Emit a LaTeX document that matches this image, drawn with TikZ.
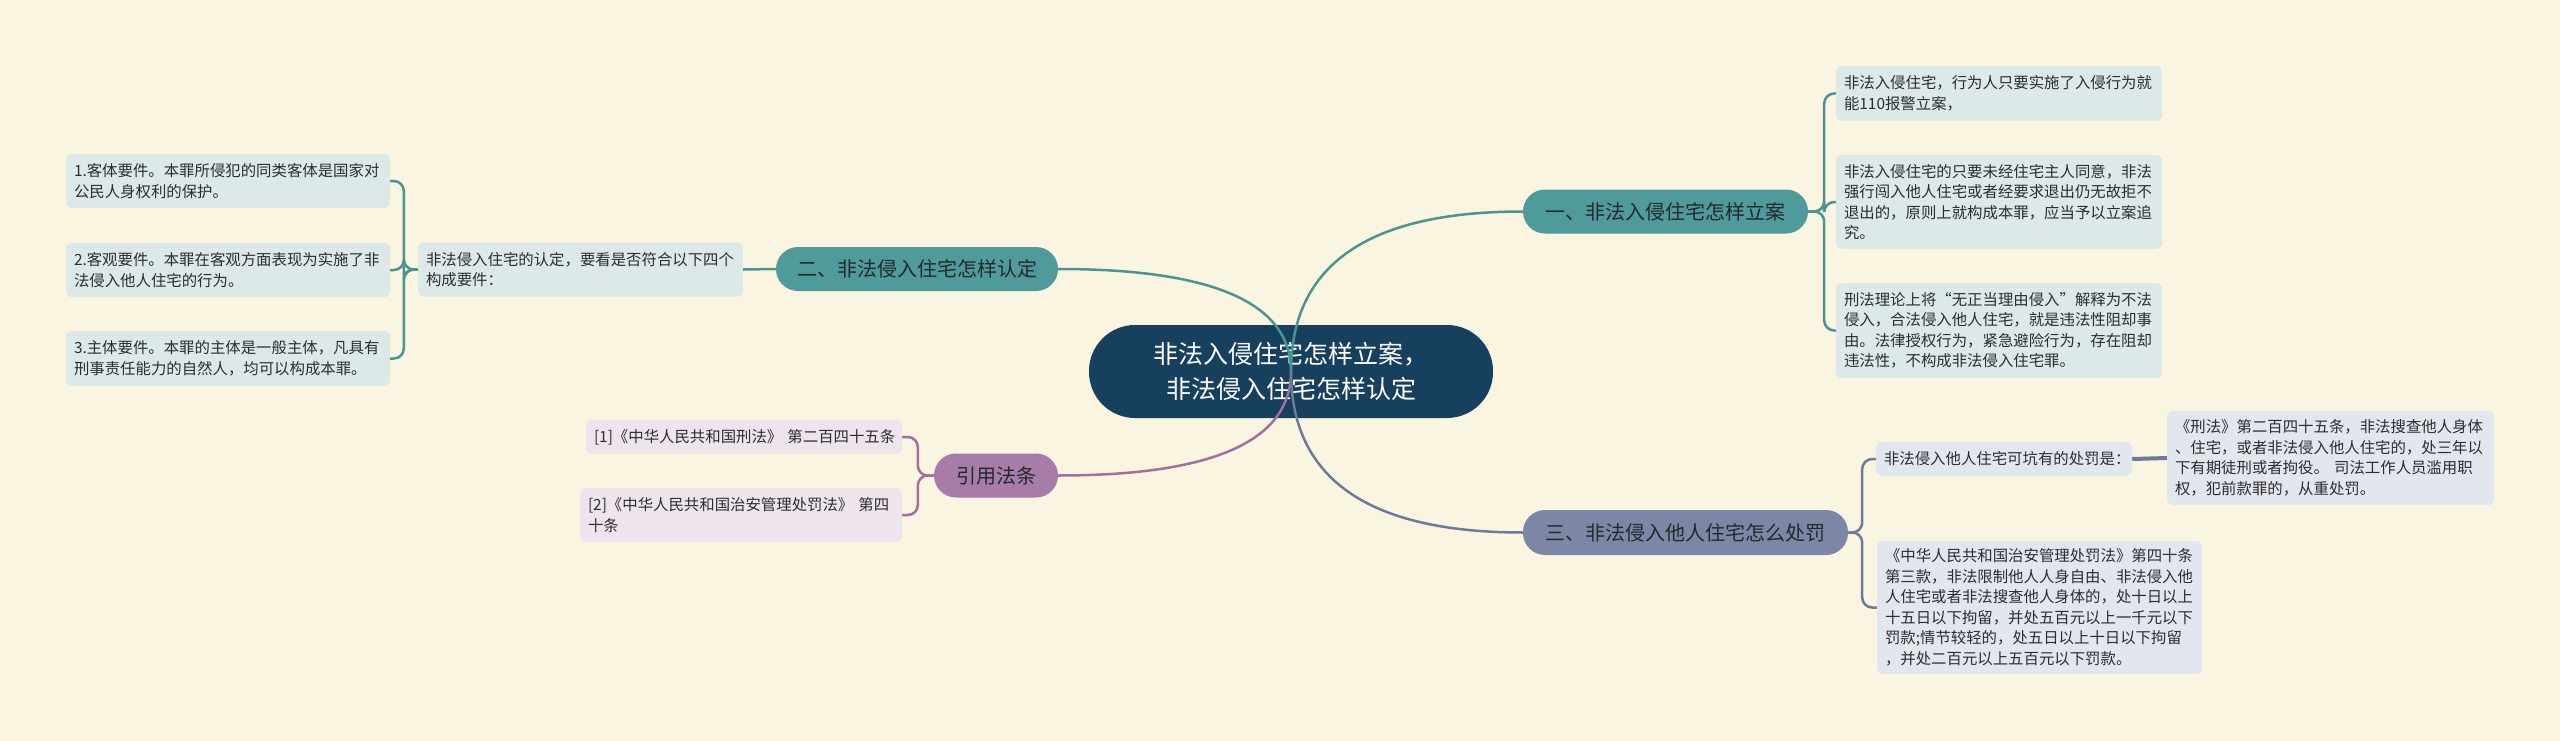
\documentclass[tikz,border=0pt]{standalone}
\usepackage{fontspec}
\setmainfont{Noto Sans CJK SC}
\definecolor{bg}{HTML}{FAF5E0}
\definecolor{centerfill}{HTML}{173F5E}
\definecolor{tealfill}{HTML}{4F9A9A}
\definecolor{tealline}{HTML}{4A9492}
\definecolor{tealleaf}{HTML}{DCE9E8}
\definecolor{purfill}{HTML}{A77CA8}
\definecolor{purline}{HTML}{A070A0}
\definecolor{purleaf}{HTML}{EEE4EE}
\definecolor{slatefill}{HTML}{7B87A5}
\definecolor{slateline}{HTML}{6E7A99}
\definecolor{slateleaf}{HTML}{E2E6EF}
\definecolor{txt}{HTML}{2D2D2D}
\definecolor{btxt}{HTML}{222A2E}
\begin{document}
\begin{tikzpicture}[x=1pt,y=-1pt,
  leaf/.style={rounded corners=6pt, inner xsep=8pt, inner ysep=0pt, align=left, text=txt,
    font=\fontsize{15.4}{20.5}\selectfont},
  branch/.style={rounded corners=22pt, inner sep=0pt, text=btxt, align=center,
    font=\fontsize{20}{24}\selectfont, minimum height=44pt},
  mainline/.style={line width=2.5pt},
  bracket/.style={line width=2.5pt, rounded corners=10pt}]
\fill[bg] (0,0) rectangle (2560,741);
\useasboundingbox (0,0) rectangle (2560,741);

% center
\node[rounded corners=46pt, fill=centerfill, text=white, align=center, inner sep=0pt,
  minimum width=404pt, minimum height=93pt, font=\fontsize{25}{35}\selectfont]
  (N0) at (1291,371.5) {非法入侵住宅怎样立案，\\非法侵入住宅怎样认定};

% branches
\node[branch, fill=tealfill, minimum width=285pt] (N1) at (1665.5,211.5) {一、非法入侵住宅怎样立案};
\node[branch, fill=tealfill, minimum width=282pt] (N2) at (917,269) {二、非法侵入住宅怎样认定};
\node[branch, fill=purfill, minimum width=124pt] (N3) at (996,475.5) {引用法条};
\node[branch, fill=slatefill, minimum width=325pt, minimum height=45pt] (N4) at (1685.5,532.5) {三、非法侵入他人住宅怎么处罚};

% leaves of branch 1
\node[leaf, fill=tealleaf, minimum width=326pt, text width=310pt, minimum height=55pt] (L1a) at (1999,93.5)
  {非法入侵住宅，行为人只要实施了入侵行为就\\能110报警立案，};
\node[leaf, fill=tealleaf, minimum width=326pt, text width=310pt, minimum height=94pt] (L1b) at (1999,202)
  {非法入侵住宅的只要未经住宅主人同意，非法\\强行闯入他人住宅或者经要求退出仍无故拒不\\退出的，原则上就构成本罪，应当予以立案追\\究。};
\node[leaf, fill=tealleaf, minimum width=326pt, text width=310pt, minimum height=95pt] (L1c) at (1999,330.5)
  {刑法理论上将“无正当理由侵入”解释为不法\\侵入，合法侵入他人住宅，就是违法性阻却事\\由。法律授权行为，紧急避险行为，存在阻却\\违法性，不构成非法侵入住宅罪。};

% leaves of branch 2
\node[leaf, fill=tealleaf, minimum width=325pt, text width=309pt, minimum height=54pt] (L2) at (580.5,269.5)
  {非法侵入住宅的认定，要看是否符合以下四个\\构成要件：};
\node[leaf, fill=tealleaf, minimum width=324pt, text width=308pt, minimum height=54pt] (L2a) at (228,181)
  {1.客体要件。本罪所侵犯的同类客体是国家对\\公民人身权利的保护。};
\node[leaf, fill=tealleaf, minimum width=324pt, text width=308pt, minimum height=54pt] (L2b) at (228,270)
  {2.客观要件。本罪在客观方面表现为实施了非\\法侵入他人住宅的行为。};
\node[leaf, fill=tealleaf, minimum width=324pt, text width=308pt, minimum height=55pt] (L2c) at (228,358.5)
  {3.主体要件。本罪的主体是一般主体，凡具有\\刑事责任能力的自然人，均可以构成本罪。};

% leaves of citations
\node[leaf, fill=purleaf, minimum width=316pt, text width=300pt, minimum height=34pt] (R1) at (744,437)
  {[1]《中华人民共和国刑法》~第二百四十五条};
\node[leaf, fill=purleaf, minimum width=322pt, text width=306pt, minimum height=54pt] (R2) at (741,515)
  {[2]《中华人民共和国治安管理处罚法》~第四\\十条};

% leaves of branch 3
\node[leaf, fill=slateleaf, minimum width=256pt, text width=240pt, minimum height=34pt] (T1) at (2004,459)
  {非法侵入他人住宅可坑有的处罚是：};
\node[leaf, fill=slateleaf, minimum width=327pt, text width=311pt, minimum height=94pt] (TR) at (2330.5,458)
  {《刑法》第二百四十五条，非法搜查他人身体\\、住宅，或者非法侵入他人住宅的，处三年以\\下有期徒刑或者拘役。~司法工作人员滥用职\\权，犯前款罪的，从重处罚。};
\node[leaf, fill=slateleaf, minimum width=325pt, text width=309pt, minimum height=133pt] (T2) at (2039.5,607.5)
  {《中华人民共和国治安管理处罚法》第四十条\\第三款，非法限制他人人身自由、非法侵入他\\人住宅或者非法搜查他人身体的，处十日以上\\十五日以下拘留，并处五百元以上一千元以下\\罚款;情节较轻的，处五日以上十日以下拘留\\，并处二百元以上五百元以下罚款。};

% main curves (drawn over the center node)
\draw[mainline, tealline] (N0.center) .. controls (1291,264.7) and (1368.3,211.5) .. (N1.west);
\draw[mainline, tealline] (N0.center) .. controls (1291,303) and (1213.3,269) .. (N2.east);
\draw[mainline, purline] (N0.center) .. controls (1291,441) and (1213.3,475.5) .. (N3.east);
\draw[mainline, slateline] (N0.center) .. controls (1291,479) and (1368.3,532.5) .. (N4.west);

% brackets
\draw[bracket, tealline] (N1.east) -- ++(16,0) |- (L1a.west);
\draw[bracket, tealline] (N1.east) -- ++(16,0) |- (L1b.west);
\draw[bracket, tealline] (N1.east) -- ++(16,0) |- (L1c.west);
\draw[mainline, tealline] (N2.west) -- (L2.east);
\draw[bracket, tealline] (L2.west) -- ++(-14,0) |- (L2a.east);
\draw[bracket, tealline] (L2.west) -- ++(-14,0) |- (L2b.east);
\draw[bracket, tealline] (L2.west) -- ++(-14,0) |- (L2c.east);
\draw[bracket, purline] (N3.west) -- ++(-16,0) |- (R1.east);
\draw[bracket, purline] (N3.west) -- ++(-16,0) |- (R2.east);
\draw[bracket, slateline] (N4.east) -- ++(14,0) |- (T1.west);
\draw[bracket, slateline] (N4.east) -- ++(14,0) |- (T2.west);
\draw[line width=4pt, slateline] (T1.east) -- (TR.west);
\end{tikzpicture}
\end{document}
